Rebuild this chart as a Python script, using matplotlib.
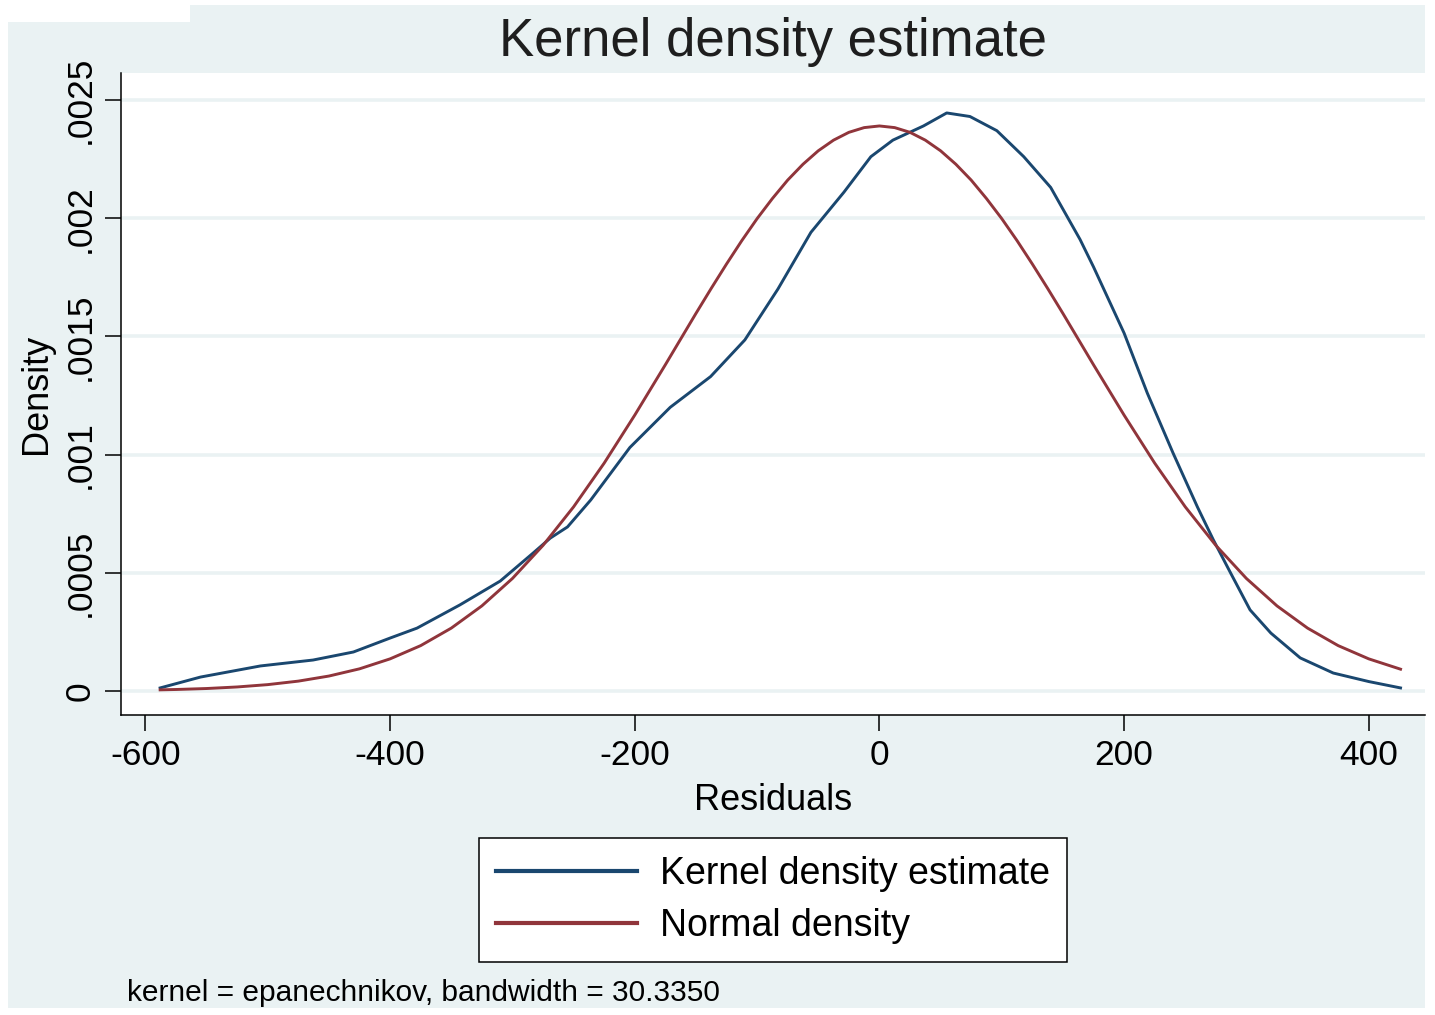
import matplotlib
matplotlib.use("Agg")
import matplotlib.pyplot as plt
from matplotlib.patches import Rectangle

plt.rcParams['font.family'] = ['Liberation Sans', 'DejaVu Sans']

# Kernel density estimate
kde_x = [-588, -555, -506, -463, -430, -400, -378, -343, -310, -283, -269, -255,
         -236, -204, -171, -138, -110, -83, -56, -29, -7, 11, 36, 55, 74, 96,
         118, 140, 164, 175, 200, 219, 240, 260, 273, 287, 303, 320, 344, 371,
         400, 426]
kde_y = [0.000013, 0.000059, 0.000106, 0.000131, 0.000165, 0.000224, 0.000266,
         0.000364, 0.000465, 0.000584, 0.000647, 0.000694, 0.000808, 0.00103,
         0.00120, 0.00133, 0.001485, 0.00170, 0.00194, 0.00211, 0.00226, 0.00233,
         0.00239, 0.002445, 0.00243, 0.00237, 0.00226, 0.00213, 0.00191, 0.001794,
         0.001514, 0.00126, 0.001007, 0.000778, 0.000639, 0.000500, 0.000343,
         0.000245, 0.000140, 0.000076, 0.000040, 0.000013]

# Normal density
norm_x = [-588, -575, -550, -525, -500, -475, -450, -425, -400, -375, -350, -325,
          -300, -275, -250, -225, -200, -175, -150, -137.5, -125, -112.5, -100,
          -87.5, -75, -62.5, -50, -37.5, -25, -12.5, 0, 12.5, 25, 37.5, 50, 62.5,
          75, 87.5, 100, 112.5, 125, 137.5, 150, 175, 200, 225, 250, 275, 300,
          325, 350, 375, 400, 426]
norm_y = [0.0000049, 0.0000064, 0.0000105, 0.0000171, 0.000027, 0.0000418,
          0.0000633, 0.0000938, 0.000136, 0.000192, 0.000266, 0.000360, 0.000476,
          0.000616, 0.000779, 0.000964, 0.001167, 0.00138, 0.001597, 0.001703,
          0.001806, 0.001905, 0.001998, 0.002083, 0.002161, 0.002228, 0.002285,
          0.00233, 0.002363, 0.002383, 0.00239, 0.002383, 0.002363, 0.00233,
          0.002285, 0.002228, 0.002161, 0.002083, 0.001998, 0.001905, 0.001806,
          0.001703, 0.001597, 0.00138, 0.001167, 0.000964, 0.000779, 0.000616,
          0.000476, 0.000360, 0.000266, 0.000192, 0.000136, 0.0000923]

x_ticks = [-600, -400, -200, 0, 200, 400]
x_tick_labels = ['-600', '-400', '-200', '0', '200', '400']
y_ticks = [0, 0.0005, 0.001, 0.0015, 0.002, 0.0025]
y_tick_labels = ['0', '.0005', '.001', '.0015', '.002', '.0025']

W, H = 1435, 1015
bg = '#EAF2F3'
navy = '#1A476F'
maroon = '#90353B'

fig = plt.figure(figsize=(W / 100, H / 100), dpi=100)
fig.patch.set_facecolor('white')

# Stata-like light bluish background
fig.patches.append(Rectangle((8 / W, 1 - 1008 / H), (1425 - 8) / W, (1008 - 22) / H,
                             transform=fig.transFigure, facecolor=bg, edgecolor='none', zorder=-10))
fig.patches.append(Rectangle((190 / W, 1 - 23 / H), (1425 - 190) / W, (23 - 5) / H,
                             transform=fig.transFigure, facecolor=bg, edgecolor='none', zorder=-10))

ax = fig.add_axes([121 / W, 1 - 715 / H, (1425 - 121) / W, (715 - 73) / H])
ax.set_facecolor('white')

ax.plot(kde_x, kde_y, color=navy, lw=2.1, label='Kernel density estimate', zorder=3)
ax.plot(norm_x, norm_y, color=maroon, lw=2.1, label='Normal density', zorder=3)

ax.set_xlim(-620, 446)
ax.set_ylim(-0.0001015, 0.002614)

ax.set_xticks(x_ticks)
ax.set_xticklabels(x_tick_labels, fontsize=25.5)
ax.set_yticks(y_ticks)
ax.set_yticklabels(y_tick_labels, fontsize=25.5, rotation=90, va='center')

ax.tick_params(axis='both', direction='out', length=11.5, width=1.1, color='black')
ax.tick_params(axis='x', pad=6)
ax.tick_params(axis='y', pad=6)

ax.grid(axis='y', color=bg, lw=2.6)
ax.set_axisbelow(True)

for side in ['top', 'right']:
    ax.spines[side].set_visible(False)
for side in ['left', 'bottom']:
    ax.spines[side].set_linewidth(1.1)
    ax.spines[side].set_color('black')

ax.set_xlabel('Residuals', fontsize=26, labelpad=8)
ax.set_ylabel('Density', fontsize=26, labelpad=7)

fig.text(773 / W, 1 - 42 / H, 'Kernel density estimate', fontsize=38,
         ha='center', va='center', color='#1E1E1E')

leg = fig.legend(loc='center', bbox_to_anchor=(773 / W, 1 - 900 / H),
                 fontsize=27, frameon=True, fancybox=False, handlelength=3.75,
                 handletextpad=0.6, labelspacing=0.44, borderpad=0.47,
                 edgecolor='black', framealpha=1)
leg.get_frame().set_linewidth(1.1)
for line in leg.get_lines():
    line.set_linewidth(3)

fig.text(127 / W, 1 - 993 / H, 'kernel = epanechnikov, bandwidth = 30.3350',
         fontsize=21.5, ha='left', va='center')

fig.savefig('out.png', dpi=100, facecolor=fig.get_facecolor())
